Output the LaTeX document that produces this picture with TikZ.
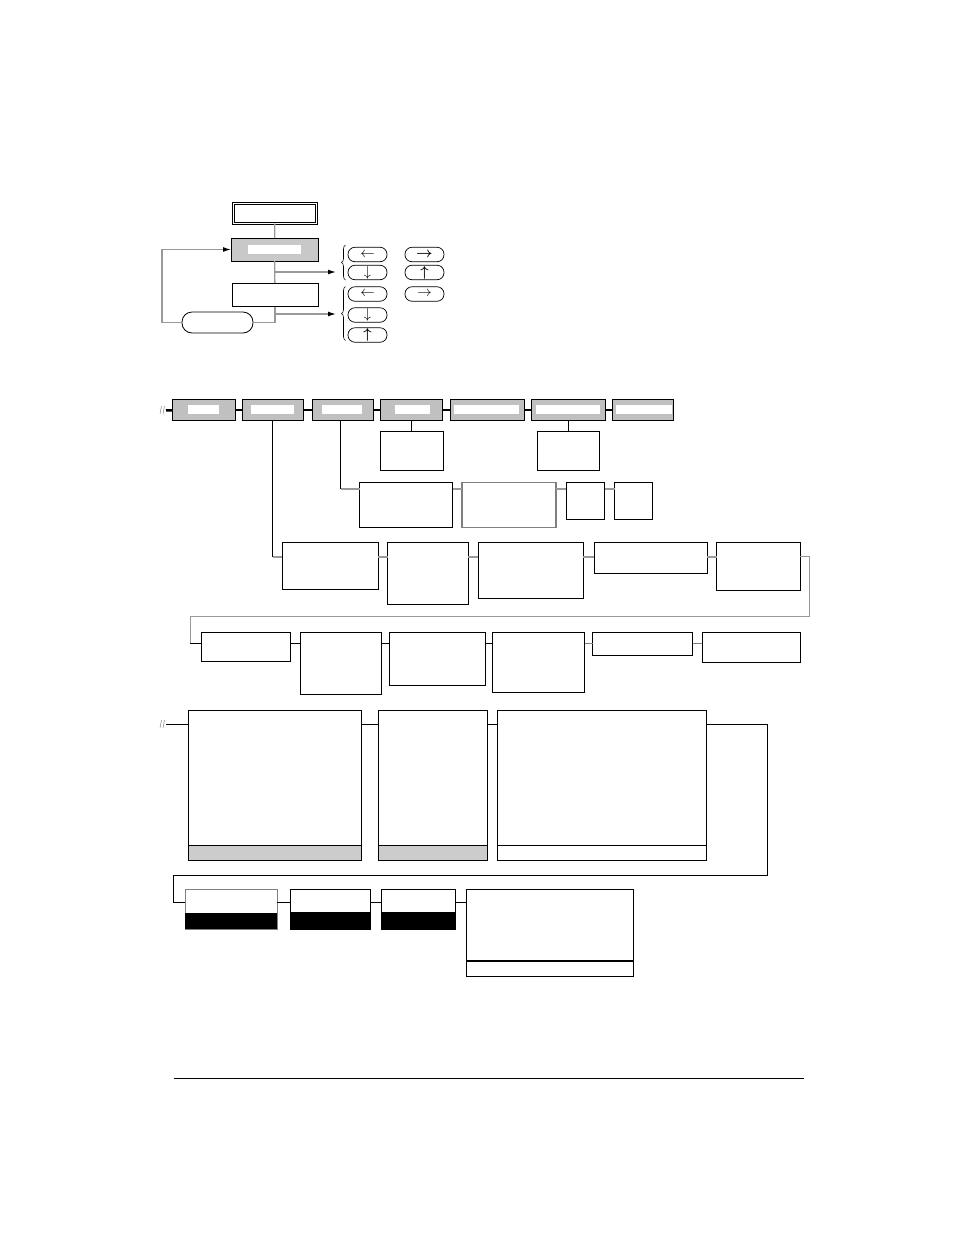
\documentclass[tikz,border=0pt]{standalone}
\usepackage{amsmath}
\usetikzlibrary{fit,arrows.meta,decorations.pathreplacing}
\definecolor{menugrey}{RGB}{192,192,192}
\definecolor{keygrey}{RGB}{200,200,200}
\definecolor{stripgrey}{RGB}{204,204,204}
\definecolor{linegrey}{RGB}{153,153,153}
\definecolor{midgrey}{RGB}{128,128,128}
\tikzset{
  box/.style={draw, line width=0.9pt, inner sep=0pt, outer sep=0pt},
  key/.style={draw, line width=0.7pt, rounded corners=7pt, minimum width=39pt, minimum height=14.5pt, inner sep=0pt, font=\Large},
  link/.style={line width=0.9pt},
  glink/.style={line width=1.3pt, draw=linegrey},
  blink/.style={line width=2.5pt},
  tip/.style={-{Latex[color=black,length=8pt,width=5pt]}},
  curly/.style={decorate, decoration={brace, amplitude=4pt}, line width=0.6pt}
}
\begin{document}
\begin{tikzpicture}[x=1pt,y=-1pt]
\useasboundingbox (0,0) rectangle (954,1235);
\node[box, double, double distance=1.6pt, line width=0.7pt, fit={(233.5,203.5) (316.5,223.5)}] (start) {};
\node[box, fill=keygrey, line width=0.8pt, fit={(231,238) (318,261)}] (menu) {};
\fill[white] (248,245) rectangle (301,254);
\node[box, line width=0.8pt, fit={(232,283) (318,306.5)}] (edit) {};
\node[box, line width=0.8pt, rounded corners=10pt, fit={(182,312) (253,333)}] (enter) {};
\coordinate (b1) at (275,272);
\coordinate (b1e) at (336,272);
\coordinate (b2) at (275,314);
\coordinate (b2e) at (336,314);
\draw[glink] (start) -- (menu);
\draw[glink] (menu) -- (edit);
\draw[glink] (edit) |- (enter);
\draw[glink, tip] (b1) -- (b1e);
\draw[glink, tip] (b2) -- (b2e);
\draw[glink, tip] (enter.west) -- ++(-20,0) |- (menu.west);
\draw[curly] (345.5,280) -- (345.5,245);
\draw[curly] (345.5,340.5) -- (345.5,286.5);
\node[key] (kl1) at (367.5,254.5) {$\leftarrow$};
\node[key] (kr1) at (424.5,254.5) {$\boldsymbol{\rightarrow}$};
\node[key] (kd1) at (367.5,272.5) {$\downarrow$};
\node[key] (ku1) at (424.5,272.5) {$\boldsymbol{\uparrow}$};
\node[key] (kl2) at (367.5,294) {$\leftarrow$};
\node[key] (kr2) at (424.5,294) {$\rightarrow$};
\node[key] (kd2) at (367.5,315) {$\downarrow$};
\node[key] (ku2) at (367.5,335) {$\boldsymbol{\uparrow}$};

\foreach \n/\xa/\xb/\ia/\ib in {A/172/235/188/219, B/242/303.5/250.5/293.5, C/312/373.5/321.5/362, D/380.5/442/395/429.5, E/450/524/454/519, F/531/605/535.5/600, G/612/673/616/671.5}{
  \node[box, fill=menugrey, fit={(\xa,399.5) (\xb,420.7)}] (m\n) {};
  \fill[white] (\ia,405) rectangle (\ib,414);
}
\coordinate (m0) at (166,410.3);
\draw[blink] (m0) -- (mA);
\foreach \p/\q in {A/B,B/C,C/D,D/E,E/F,F/G} \draw[blink] (m\p) -- (m\q);
\draw[midgrey, line width=0.5pt] (160,414) -- (161.5,406) (163,414) -- (164.5,406);
\node[box, fit={(380.5,431) (443,470.5)}] (mDc) {};
\node[box, fit={(537,431) (599.5,470.5)}] (mFc) {};
\draw[link] (mD.south) -- (mD.south |- mDc.north);
\draw[link] (mF.south) -- (mF.south |- mFc.north);

\coordinate (hy) at (0,489);
\node[box, fit={(359.5,482.5) (452.5,527.5)}] (mH) {};
\node[box, draw=midgrey, line width=1.1pt, fit={(462,482.5) (556,527.5)}] (mI) {};
\node[box, fit={(566,482.5) (604.5,519.5)}] (mJ) {};
\node[box, fit={(614.5,482.5) (652.5,519.5)}] (mK) {};
\draw[link] ([xshift=-2pt]mC.south) -- ([xshift=-2pt]mC.south |- hy) coordinate (hc);
\draw[glink] (hc) -- (mH.west |- hy);
\foreach \p/\q in {H/I,I/J,J/K} \draw[glink] (m\p.east |- hy) -- (m\q.west |- hy);

\coordinate (r3y) at (0,556.7);
\node[box, fit={(282,542.3) (378,589.3)}] (r3a) {};
\node[box, fit={(387.5,542.3) (468,604)}] (r3b) {};
\node[box, fit={(478,542.3) (583,598.3)}] (r3c) {};
\node[box, fit={(594,542.3) (707,573.3)}] (r3d) {};
\node[box, fit={(716.5,542.3) (800,590.3)}] (r3e) {};
\draw[link] (mB.south) -- (mB.south |- r3y) coordinate (r3s);
\draw[glink, line width=2pt] (r3s) -- (r3a.west |- r3y);
\foreach \p/\q in {a/b,b/c,c/d,d/e} \draw[glink, line width=2pt] (r3\p.east |- r3y) -- (r3\q.west |- r3y);

\coordinate (r4y) at (0,643.3);
\coordinate (t1) at (809,616.7);
\coordinate (t2) at (190,616.7);
\node[box, fit={(201,632.3) (290.3,661.7)}] (r4a) {};
\node[box, fit={(300.5,632.3) (381,694.3)}] (r4b) {};
\node[box, fit={(389,632.3) (485,685)}] (r4c) {};
\node[box, fit={(492.5,632.3) (584.5,692.7)}] (r4d) {};
\node[box, fit={(592.5,632.3) (692.7,655.7)}] (r4e) {};
\node[box, fit={(702,632.3) (800,662.3)}] (r4f) {};
\draw[glink, line width=1pt] (r3e.east |- r3y) -| (t1) -- (t2) -- (t2 |- r4y);
\draw[link] (t2 |- r4y) -- (r4a.west |- r4y);
\foreach \p/\q in {a/b,b/c,c/d} \draw[link] (r4\p.east |- r4y) -- (r4\q.west |- r4y);
\foreach \p/\q in {d/e,e/f} \draw[link, midgrey] (r4\p.east |- r4y) -- (r4\q.west |- r4y);

\coordinate (r5y) at (0,724);
\coordinate (r5s) at (166,724);
\node[box, fit={(188.5,710.7) (361.5,860.7)}] (r5a) {};
\node[box, fit={(378,710.7) (487.5,860.7)}] (r5b) {};
\node[box, fit={(497.3,710.7) (706,860.7)}] (r5c) {};
\draw[box, fill=stripgrey] (r5a.south west) rectangle ([yshift=15pt]r5a.south east);
\draw[box, fill=stripgrey] (r5b.south west) rectangle ([yshift=15pt]r5b.south east);
\draw[box] ([yshift=15pt]r5c.south west) -- ([yshift=15pt]r5c.south east);
\draw[link] (r5s) -- (r5a.west |- r5y);
\draw[midgrey, line width=0.5pt] (160,728) -- (161.5,720) (163,728) -- (164.5,720);
\draw[link] (r5a.east |- r5y) -- (r5b.west |- r5y);
\draw[link] (r5b.east |- r5y) -- (r5c.west |- r5y);

\coordinate (r6y) at (0,902.7);
\coordinate (t3) at (767.5,875);
\coordinate (t4) at (173.5,875);
\node[box, draw=midgrey, fit={(185,889.3) (277.3,929)}] (r6a) {};
\node[box, fit={(290,889.3) (370,929)}] (r6b) {};
\node[box, fit={(381.7,889.3) (455,929)}] (r6c) {};
\node[box, fit={(466.7,889.3) (633.3,976.7)}] (r6d) {};
\fill (r6a.south west) rectangle ([yshift=16.3pt]r6a.south east);
\fill (r6b.south west) rectangle ([yshift=16.7pt]r6b.south east);
\fill (r6c.south west) rectangle ([yshift=16.7pt]r6c.south east);
\draw[line width=2pt] ([yshift=16pt]r6d.south west) -- ([yshift=16pt]r6d.south east);
\draw[link] (r5c.east |- r5y) -| (t3) -- (t4) |- (r6a.west |- r6y);
\draw[link] (r6a.east |- r6y) -- (r6b.west |- r6y);
\draw[link] (r6b.east |- r6y) -- (r6c.west |- r6y);
\draw[link] (r6c.east |- r6y) -- (r6d.west |- r6y);

\draw[line width=1.2pt] (173.5,1078.3) -- (804,1078.3);
\end{tikzpicture}
\end{document}
